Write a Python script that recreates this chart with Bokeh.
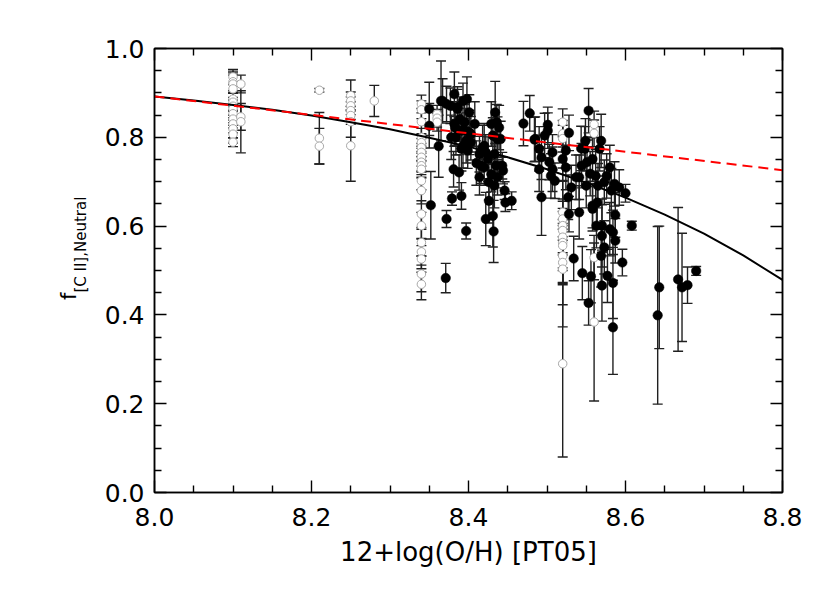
import numpy as np
from bokeh.plotting import figure
from bokeh.layouts import row
from bokeh.models import (ColumnDataSource, LinearAxis, FixedTicker, PrintfTickFormatter,
                          CustomJSTickFormatter, Range1d, Div)
from bokeh.embed import file_html
from bokeh.resources import INLINE

# ---------------- data ----------------
filled_x = [8.350, 8.350, 8.352, 8.362, 8.365, 8.372, 8.371, 8.379, 8.382, 8.381,
            8.388, 8.391, 8.397, 8.378, 8.377, 8.386, 8.393, 8.398, 8.401, 8.389,
            8.395, 8.408, 8.403, 8.393, 8.399, 8.391, 8.383, 8.397, 8.367, 8.372,
            8.386, 8.382, 8.391, 8.401, 8.384, 8.397, 8.403,
            8.410, 8.414, 8.418, 8.422, 8.425, 8.420, 8.422, 8.426, 8.431, 8.432,
            8.433, 8.434, 8.429, 8.436, 8.439, 8.431, 8.437, 8.433, 8.435, 8.429,
            8.443, 8.444, 8.446, 8.447, 8.455, 8.437, 8.416, 8.414, 8.420, 8.441,
            8.426,
            8.470, 8.478, 8.485, 8.490, 8.490, 8.493, 8.493, 8.497, 8.501, 8.501,
            8.503, 8.507, 8.507, 8.510, 8.505, 8.484,
            8.520, 8.524, 8.524, 8.527, 8.531, 8.537, 8.528, 8.528, 8.534, 8.545,
            8.553, 8.553, 8.556, 8.569, 8.548, 8.541, 8.541, 8.544, 8.550, 8.558,
            8.562, 8.564, 8.565, 8.570, 8.570, 8.569, 8.570, 8.577, 8.584, 8.584,
            8.587, 8.596, 8.580, 8.586, 8.592, 8.600, 8.587, 8.608, 8.580, 8.558,
            8.5435, 8.549, 8.567, 8.551, 8.555, 8.573, 8.576, 8.582, 8.558, 8.563,
            8.573, 8.584,
            8.643, 8.641, 8.667, 8.672, 8.679, 8.690]
filled_y = [0.864, 0.826, 0.647, 0.780, 0.882, 0.616, 0.483, 0.662, 0.897, 0.728,
            0.721, 0.668, 0.589, 0.800, 0.871, 0.864, 0.882, 0.886, 0.856, 0.841,
            0.834, 0.830, 0.807, 0.781, 0.770, 0.774, 0.822, 0.815, 0.882, 0.875,
            0.868, 0.830, 0.815, 0.811, 0.800, 0.792, 0.789,
            0.742, 0.710, 0.777, 0.766, 0.751, 0.732, 0.616, 0.657, 0.623, 0.588,
            0.691, 0.856, 0.830, 0.834, 0.822, 0.804, 0.796, 0.762, 0.736, 0.717,
            0.736, 0.725, 0.680, 0.653, 0.657, 0.710, 0.736, 0.762, 0.781, 0.796,
            0.699,
            0.831, 0.854, 0.796, 0.774, 0.728, 0.665, 0.755, 0.804, 0.828, 0.815,
            0.744, 0.766, 0.728, 0.702, 0.713, 0.795,
            0.751, 0.770, 0.732, 0.665, 0.687, 0.710, 0.810, 0.627, 0.527, 0.494,
            0.860, 0.427, 0.487, 0.792, 0.774, 0.710, 0.631, 0.736, 0.691, 0.751,
            0.713, 0.653, 0.691, 0.601, 0.578, 0.533, 0.466, 0.488, 0.372, 0.472,
            0.567, 0.518, 0.732, 0.695, 0.687, 0.674, 0.625, 0.601, 0.593, 0.646,
            0.775, 0.792, 0.774, 0.744, 0.718, 0.699, 0.713, 0.680, 0.639, 0.601,
            0.552, 0.586,
            0.462, 0.399, 0.480, 0.462, 0.467, 0.499]
filled_err = [0.060, 0.050, 0.076, 0.070, 0.090, 0.019, 0.033, 0.015, 0.050, 0.040,
              0.040, 0.030, 0.018, 0.050, 0.040, 0.050, 0.040, 0.050, 0.040, 0.050,
              0.040, 0.050, 0.040, 0.050, 0.040, 0.050, 0.040, 0.050, 0.050, 0.040,
              0.040, 0.050, 0.040, 0.050, 0.040, 0.050, 0.040,
              0.050, 0.040, 0.050, 0.040, 0.050, 0.040, 0.060, 0.050, 0.070, 0.070,
              0.050, 0.070, 0.050, 0.040, 0.050, 0.040, 0.050, 0.040, 0.050, 0.040,
              0.030, 0.030, 0.020, 0.020, 0.020, 0.040, 0.040, 0.040, 0.050, 0.040,
              0.040,
              0.050, 0.040, 0.050, 0.050, 0.050, 0.086, 0.050, 0.050, 0.040, 0.040,
              0.040, 0.040, 0.050, 0.040, 0.050, 0.050,
              0.050, 0.040, 0.050, 0.050, 0.050, 0.050, 0.040, 0.040, 0.050, 0.060,
              0.050, 0.050, 0.060, 0.060, 0.050, 0.050, 0.060, 0.050, 0.050, 0.050,
              0.060, 0.060, 0.050, 0.060, 0.070, 0.070, 0.080, 0.060, 0.106, 0.080,
              0.050, 0.030, 0.050, 0.050, 0.040, 0.020, 0.050, 0.010, 0.060, 0.050,
              0.050, 0.050, 0.050, 0.050, 0.050, 0.050, 0.050, 0.050, 0.050, 0.050,
              0.060, 0.050,
              0.138, 0.200, 0.162, 0.122, 0.041, 0.010]

open_x = [8.10] * 14 + [8.11] * 3 + [8.21] * 3 + [8.25] * 7 + [8.28] + \
         [8.34] * 20 + [8.36] * 3 + [8.52] * 14 + [8.56] * 4
open_y = [0.936, 0.925, 0.920, 0.909, 0.886, 0.879, 0.870, 0.864, 0.853, 0.841,
          0.830, 0.819, 0.807, 0.789,
          0.920, 0.846, 0.835,
          0.906, 0.798, 0.780,
          0.894, 0.882, 0.871, 0.860, 0.849, 0.835, 0.781,
          0.882,
          0.875, 0.862, 0.835, 0.800, 0.788, 0.777, 0.766, 0.755, 0.744, 0.736,
          0.728, 0.702, 0.680, 0.627, 0.601, 0.563, 0.542, 0.526, 0.492, 0.469,
          0.852, 0.843, 0.834,
          0.834, 0.808, 0.797, 0.631, 0.616, 0.601, 0.590, 0.575, 0.563, 0.556,
          0.533, 0.518, 0.503, 0.290,
          0.829, 0.809, 0.529, 0.384]
open_err = [0.017, 0.020, 0.020, 0.040, 0.014, 0.020, 0.020, 0.020, 0.020, 0.020,
            0.020, 0.020, 0.020, 0.010,
            0.020, 0.030, 0.070,
            0.004, 0.058, 0.040,
            0.035, 0.020, 0.020, 0.020, 0.020, 0.035, 0.080,
            0.035,
            0.020, 0.020, 0.030, 0.020, 0.020, 0.020, 0.020, 0.020, 0.020, 0.020,
            0.020, 0.020, 0.030, 0.030, 0.030, 0.030, 0.030, 0.030, 0.040, 0.035,
            0.020, 0.020, 0.020,
            0.030, 0.030, 0.030, 0.030, 0.040, 0.130, 0.050, 0.040, 0.140, 0.050,
            0.060, 0.050, 0.130, 0.210,
            0.030, 0.030, 0.050, 0.178]

# fitted curve (solid) and linear relation (dashed), read at sample points
curve_x = [8.0, 8.05, 8.1, 8.15, 8.2, 8.25, 8.3, 8.35, 8.4, 8.45, 8.5, 8.55,
           8.6, 8.65, 8.7, 8.75, 8.8]
curve_y = [0.892, 0.883, 0.873, 0.862, 0.849, 0.834, 0.818, 0.799, 0.779, 0.755,
           0.728, 0.698, 0.664, 0.626, 0.583, 0.534, 0.479]
dash_x = [8.0, 8.8]
dash_y = [0.892, 0.726]

x_ticks = [8.0, 8.2, 8.4, 8.6, 8.8]
x_minor = [8.05, 8.1, 8.15, 8.25, 8.3, 8.35, 8.45, 8.5, 8.55, 8.65, 8.7, 8.75]
y_ticks = [0.0, 0.2, 0.4, 0.6, 0.8, 1.0]
y_minor = [0.05, 0.1, 0.15, 0.25, 0.3, 0.35, 0.45, 0.5, 0.55, 0.65, 0.7, 0.75, 0.85, 0.9, 0.95]

y_title_main = "f"
y_title_sub = "[C II],Neutral"
x_title = "12+log(O/H) [PT05]"

FONT = "DejaVu Sans"
LAB_W = 90
H = 584

# ---------------- main figure ----------------
p = figure(width=821 - LAB_W, height=H, output_backend="svg", toolbar_location=None,
           x_range=Range1d(8.0, 8.8), y_range=Range1d(0.0, 1.0),
           min_border_left=154 - LAB_W, min_border_right=39, min_border_top=48,
           min_border_bottom=92, x_axis_label=x_title)
p.grid.visible = False
p.outline_line_color = "black"
p.outline_line_width = 1.5
p.background_fill_color = "white"
p.border_fill_color = "white"

def style_axis(ax, ticks, minor, labels):
    ax.ticker = FixedTicker(ticks=ticks, minor_ticks=minor)
    ax.axis_line_width = 1.5
    ax.axis_line_color = "black"
    ax.major_tick_in = 12
    ax.major_tick_out = 0
    ax.minor_tick_in = 7
    ax.minor_tick_out = 0
    ax.major_tick_line_width = 1.4
    ax.minor_tick_line_width = 1.4
    ax.major_tick_line_color = "black"
    ax.minor_tick_line_color = "black"
    if labels:
        ax.formatter = PrintfTickFormatter(format="%.1f")
        ax.major_label_text_font = FONT
        ax.major_label_text_font_size = "25px"
        ax.major_label_text_color = "black"
    else:
        ax.formatter = CustomJSTickFormatter(code="return ''")

xa = p.xaxis[0]
style_axis(xa, x_ticks, x_minor, True)
xa.major_label_standoff = 15
xa.axis_label_text_font = FONT
xa.axis_label_text_font_size = "26px"
xa.axis_label_text_font_style = "normal"
xa.axis_label_text_color = "black"
xa.axis_label_standoff = 8

ya = p.yaxis[0]
style_axis(ya, y_ticks, y_minor, True)
ya.major_label_standoff = 10

top = LinearAxis()
style_axis(top, x_ticks, x_minor, False)
p.add_layout(top, "above")
right = LinearAxis()
style_axis(right, y_ticks, y_minor, False)
p.add_layout(right, "right")

# ---------------- error bars ----------------
def bars(xs, ys, es, color):
    lo = [y - e for y, e in zip(ys, es)]
    hi = [y + e for y, e in zip(ys, es)]
    src = ColumnDataSource(dict(x=xs, lo=lo, hi=hi))
    p.segment(x0="x", y0="lo", x1="x", y1="hi", source=src, line_color=color, line_width=1.4)
    p.scatter(x="x", y="lo", source=src, marker="dash", size=10, line_color=color, line_width=1.4)
    p.scatter(x="x", y="hi", source=src, marker="dash", size=10, line_color=color, line_width=1.4)

bars(open_x, open_y, open_err, "#202020")
bars(filled_x, filled_y, filled_err, "#202020")

p.scatter(open_x, open_y, marker="circle", size=8.5, fill_color="white",
          line_color="#a8a8a8", line_width=1.0)
p.scatter(filled_x, filled_y, marker="circle", size=9.5, fill_color="black",
          line_color="black", line_width=0.5)

# ---------------- lines ----------------
p.line(curve_x, curve_y, line_color="black", line_width=2)
p.line(dash_x, dash_y, line_color="#ff0000", line_width=2, line_dash="10 6")

# ---------------- y-axis title (with subscript), rotated HTML text ----------------
ylab_html = (
    '<div style="position:absolute; left:59px; top:300px; transform-origin:0 0; '
    'transform:rotate(-90deg); white-space:nowrap; font-family:\'DejaVu Sans\'; '
    'font-size:21px; line-height:21px; color:black;">'
    + y_title_main +
    '<sub style="font-size:15px; vertical-align:-10px; line-height:15px;">'
    + y_title_sub + '</sub></div>'
)
lab = Div(text=ylab_html, width=LAB_W, height=H, margin=(0, 0, 0, 0),
          styles={"position": "relative", "overflow": "visible"})

layout = row(lab, p, spacing=0)
open("out.html", "w").write(file_html(layout, INLINE))
